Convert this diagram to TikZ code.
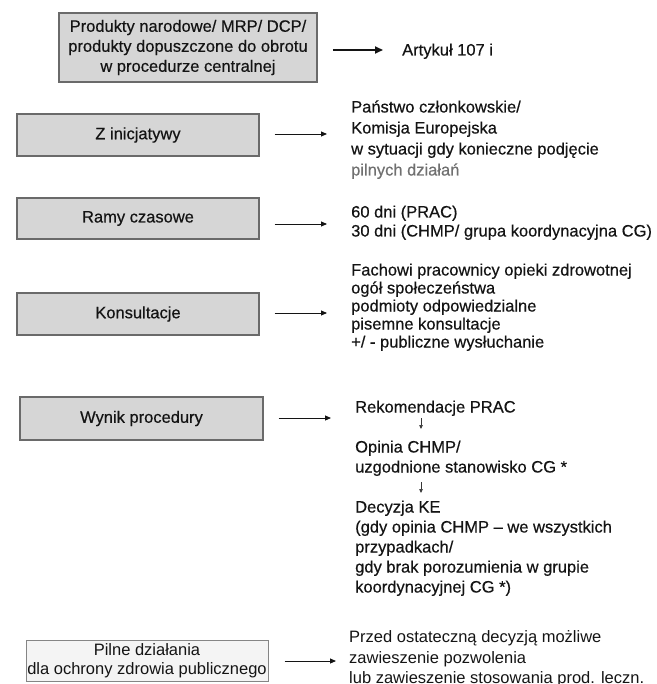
\documentclass[tikz,border=0pt]{standalone}
\usepackage{fontspec}
\setmainfont{Liberation Sans}[FakeBold=0.45]
\newfontfamily\plainfont{Liberation Sans}
\usetikzlibrary{arrows.meta,calc}
\definecolor{boxfill}{HTML}{D6D6D6}
\definecolor{boxline}{HTML}{6A6A6A}
\definecolor{lightfill}{HTML}{F4F4F4}
\definecolor{lightline}{HTML}{858585}
\definecolor{txt}{HTML}{141414}
\definecolor{greytxt}{HTML}{707070}
\begin{document}
\begin{tikzpicture}[x=1pt,y=-1pt,
  box/.style={draw=boxline, line width=1.3pt, fill=boxfill, minimum width=242pt,
    minimum height=42pt, inner sep=0pt, text=txt, align=center,
    font=\fontsize{16.5}{20}\selectfont},
  lightbox/.style={box, draw=lightline, line width=1pt, fill=lightfill,
    font=\plainfont\fontsize{16.5}{19.5}\selectfont},
  lbl/.style={anchor=base west, inner sep=0pt, text=txt},
  arr/.style={draw=txt, line width=0.9pt, -{Triangle[length=6pt,width=5pt]}},
  thickarr/.style={draw=txt, line width=1.8pt, -{Triangle[length=8pt,width=7pt]}},
  sarr/.style={draw=txt!85, line width=0.7pt, -{Triangle[length=4pt,width=3.5pt]}}]
\useasboundingbox (0,0) rectangle (656,684);

% boxes
\node[box, line width=1.6pt, minimum width=258pt, minimum height=69pt] (b1) at (188,47.5)
  {Produkty narodowe/ MRP/ DCP/\\produkty dopuszczone do obrotu\\w procedurze centralnej};
\node[box] (b2) at (138,135) {Z inicjatywy};
\node[box, minimum height=41pt] (b3) at (138,218.5) {Ramy czasowe};
\node[box] (b4) at (138,314) {Konsultacje};
\node[box, minimum width=243pt, minimum height=43pt] (b5) at (141.5,418.5) {Wynik procedury};
\node[lightbox, minimum height=41pt] (b6) at (147,660.5) {Pilne działania\\dla ochrony zdrowia publicznego};

% texts
\node[lbl, font=\fontsize{16.5}{20}\selectfont] (t1) at (402,55.5) {Artykuł 107 i};
\node[lbl, font=\fontsize{16.5}{21}\selectfont] (t2) at (351,112.5)
  {\begin{tabular}[t]{@{}l@{}}Państwo członkowskie/\\Komisja Europejska\\w sytuacji gdy konieczne podjęcie\\\textcolor{greytxt}{pilnych działań}\end{tabular}};
\node[lbl, font=\fontsize{16.5}{19}\selectfont] (t3) at (351,217.5)
  {\begin{tabular}[t]{@{}l@{}}60 dni (PRAC)\\30 dni (CHMP/ grupa koordynacyjna CG)\end{tabular}};
\node[lbl, font=\fontsize{16.5}{18}\selectfont] (t4) at (351,275.5)
  {\begin{tabular}[t]{@{}l@{}}Fachowi pracownicy opieki zdrowotnej\\ogół społeczeństwa\\podmioty odpowiedzialne\\pisemne konsultacje\\+/ - publiczne wysłuchanie\end{tabular}};
\node[lbl, font=\fontsize{16.5}{20}\selectfont] (r1) at (355,412.5) {Rekomendacje PRAC};
\node[lbl, font=\fontsize{16.5}{20}\selectfont] (r2) at (355,452.5)
  {\begin{tabular}[t]{@{}l@{}}Opinia CHMP/\\uzgodnione stanowisko CG *\end{tabular}};
\node[lbl, font=\fontsize{16.5}{20}\selectfont] (r3) at (355,512.5)
  {\begin{tabular}[t]{@{}l@{}}Decyzja KE\\(gdy opinia CHMP – we wszystkich\\przypadkach/\\gdy brak porozumienia w grupie\\koordynacyjnej CG *)\end{tabular}};
\node[lbl, font=\plainfont\fontsize{16.5}{20.5}\selectfont] (t6) at (349,642.5)
  {\begin{tabular}[t]{@{}l@{}}Przed ostateczną decyzją możliwe\\zawieszenie pozwolenia\\lub zawieszenie stosowania prod. leczn.\end{tabular}};

% arrow end points
\coordinate (e1) at (383,50);
\coordinate (e2) at (327,134);
\coordinate (e3) at (327,224);
\coordinate (e4) at (327,313);
\coordinate (e5) at (331,418);
\coordinate (e6) at (336,661);
\coordinate (v1a) at (421,418);
\coordinate (v1b) at (421,429);
\coordinate (v2a) at (421,482);
\coordinate (v2b) at (421,493);

% arrows
\draw[thickarr] ($(b1.east)+(15,2.5)$) -- (e1);
\draw[arr] ($(b2.east)+(15,-1)$) -- (e2);
\draw[arr] ($(b3.east)+(15,5.5)$) -- (e3);
\draw[arr] ($(b4.east)+(15,-1)$) -- (e4);
\draw[arr] ($(b5.east)+(15,-0.5)$) -- (e5);
\draw[arr] ($(b6.east)+(16,0.5)$) -- (e6);
\draw[sarr] (v1a) -- (v1b);
\draw[sarr] (v2a) -- (v2b);
\end{tikzpicture}
\end{document}
